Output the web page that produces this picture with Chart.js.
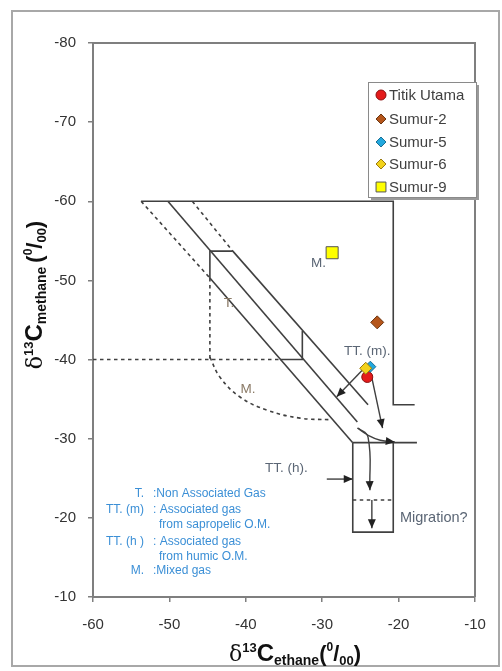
<!DOCTYPE html>
<html><head><meta charset="utf-8">
<script src="https://cdn.jsdelivr.net/npm/chart.js@4"></script>
<style>html,body{margin:0;padding:0;background:#fff}#wrap{width:502px;height:671px;position:relative}</style>
</head><body><div id="wrap"><canvas id="c" width="502" height="671"></canvas></div>
<script>
// ---- data ----
const xTicks = [-60, -50, -40, -30, -20, -10];
const yTicks = [-80, -70, -60, -50, -40, -30, -20, -10];
const seriesNames = ['Titik Utama', 'Sumur-2', 'Sumur-5', 'Sumur-6', 'Sumur-9'];
const ethaneValues = [-24.1, -22.8, -23.7, -24.3, -28.7];
const methaneValues = [-37.8, -44.7, -39.1, -38.9, -53.5];

// diagram outlines (x = d13C ethane, y = d13C methane)
const solidLines = [
  [[-53.7, -60], [-20.7, -60], [-20.7, -34.3], [-17.9, -34.3]],
  [[-50.2, -60], [-25.4, -32.1]],
  [[-44.7, -50.3], [-26.0, -29.5]],
  [[-41.7, -53.7], [-24.0, -34.3]],
  [[-41.7, -53.7], [-44.7, -53.7], [-44.7, -50.3]],
  [[-35.5, -40], [-32.6, -40], [-32.6, -43.6]],
  [[-26.0, -29.5], [-17.6, -29.5]],
  [[-26.0, -29.5], [-26.0, -18.2], [-20.7, -18.2], [-20.7, -29.5]]
];
const dashedLines = [
  [[-53.7, -60], [-44.7, -50.3]],
  [[-47.0, -60], [-41.7, -53.7]],
  [[-44.7, -50.3], [-44.7, -40]],
  [[-60, -40], [-35.5, -40]],
  [[-26.0, -22.25], [-20.7, -22.25]]
];
const mixedCurve = [[-44.7, -40.3], [-43.4, -37.8], [-40.8, -35.3], [-37.2, -33.6], [-32.9, -32.6], [-29.0, -32.4]];
const straightArrows = [
  [[-24.7, -38.7], [-28.1, -35.3]],
  [[-23.5, -37.7], [-22.1, -31.35]],
  [[-29.4, -24.9], [-26.0, -24.9]],
  [[-23.5, -22.25], [-23.5, -18.7]]
];
const curvedArrows = [
  [[-25.3, -31.35], [-24.0, -30.2], [-23.75, -23.5]],
  [[-25.4, -31.35], [-24.1, -30.5], [-22.4, -29.8], [-20.5, -29.6]]
];
const fieldLabels = ['M.', 'TT. (m).', 'T.', 'M.', 'TT. (h).', 'Migration?'];
const fieldLabelX = [-30.5, -24.1, -42.2, -39.7, -34.7, -15.4];
const fieldLabelY = [-52.2, -41.0, -47.1, -36.3, -26.3, -20.0];
const noteKeys = ['T.', 'TT. (m)', '', 'TT. (h )', '', 'M.'];
const noteTexts = [':Non Associated Gas', ': Associated gas', 'from sapropelic O.M.', ': Associated gas', 'from humic O.M.', ':Mixed gas'];

// ---- styles ----
const pointStyles = [
  {pointStyle: 'circle', r: 5.5, bg: '#e41b1b', bd: '#8b1010'},
  {pointStyle: 'rectRot', r: 6.5, bg: '#b5561b', bd: '#6b3510'},
  {pointStyle: 'rectRot', r: 5.5, bg: '#22a8de', bd: '#1a6f94'},
  {pointStyle: 'rectRot', r: 6, bg: '#f2d21b', bd: '#9a7a10'},
  {pointStyle: 'rect', r: 8.5, bg: '#ffff00', bd: '#555555'}
];
const drawOrder = [3, 5, 2, 1, 4];
const LINE = '#404040';

const toXY = arr => arr.map(p => ({x: p[0], y: p[1]}));
const datasets = [];
seriesNames.forEach((n, i) => {
  const st = pointStyles[i];
  datasets.push({label: n, data: [{x: ethaneValues[i], y: methaneValues[i]}], pointStyle: st.pointStyle,
    pointRadius: st.r, pointBackgroundColor: st.bg, pointBorderColor: st.bd, pointBorderWidth: 1, showLine: false, order: drawOrder[i]});
});
solidLines.forEach(l => datasets.push({data: toXY(l), showLine: true, pointRadius: 0, borderColor: LINE, borderWidth: 1.6, order: 20}));
dashedLines.forEach(l => datasets.push({data: toXY(l), showLine: true, pointRadius: 0, borderColor: LINE, borderWidth: 1.6, borderDash: [3.5, 3.5], order: 20}));
datasets.push({data: toXY(mixedCurve), showLine: true, pointRadius: 0, borderColor: LINE, borderWidth: 1.6, borderDash: [3.5, 3.5], tension: 0.4, order: 20});
straightArrows.forEach(l => datasets.push({data: toXY(l), showLine: true, pointRadius: 0, borderColor: LINE, borderWidth: 1.4, order: 20, isArrow: true}));
curvedArrows.forEach(l => datasets.push({data: toXY(l), showLine: true, pointRadius: 0, borderColor: LINE, borderWidth: 1.4, tension: 0.45, order: 20, isArrow: true}));

function drawRich(ctx, segs, x, y, rot) {
  ctx.save();
  ctx.translate(x, y);
  if (rot) ctx.rotate(rot);
  let w = 0;
  segs.forEach(s => { ctx.font = (s.b ? 'bold ' : '') + s.s + 'px ' + (s.f || '"Liberation Sans"'); s.w = ctx.measureText(s.t).width; w += s.w; });
  let cx = -w / 2;
  ctx.textBaseline = 'alphabetic';
  ctx.textAlign = 'left';
  ctx.fillStyle = '#111';
  segs.forEach(s => { ctx.font = (s.b ? 'bold ' : '') + s.s + 'px ' + (s.f || '"Liberation Sans"'); ctx.fillText(s.t, cx, s.dy || 0); cx += s.w; });
  ctx.restore();
}
function titleSegs(sub) {
  return [
    {t: 'δ', s: 22, f: '"DejaVu Serif"'},
    {t: '13', s: 13, dy: -9, b: true},
    {t: 'C', s: 24, b: true},
    {t: sub, s: 14, dy: 4, b: true},
    {t: '(', s: 22, b: true},
    {t: '0', s: 12, dy: -10, b: true},
    {t: '/', s: 22, b: true},
    {t: '00', s: 13, dy: 4, b: true},
    {t: ')', s: 22, b: true}
  ];
}

const decor = {
  id: 'decor',
  beforeDraw(chart) {
    const ctx = chart.ctx;
    ctx.save();
    ctx.fillStyle = '#fff';
    ctx.fillRect(0, 0, chart.width, chart.height);
    ctx.strokeStyle = '#a8a8a8';
    ctx.lineWidth = 2;
    ctx.strokeRect(12, 11, 487, 655);
    ctx.restore();
  },
  afterDatasetsDraw(chart) {
    const ctx = chart.ctx, a = chart.chartArea;
    ctx.save();
    // plot frame (top & right)
    ctx.strokeStyle = '#7f7f7f';
    ctx.lineWidth = 2;
    ctx.beginPath();
    ctx.moveTo(a.left, a.top); ctx.lineTo(a.right, a.top); ctx.lineTo(a.right, a.bottom);
    ctx.stroke();
    // arrow heads
    chart.data.datasets.forEach((ds, i) => {
      if (!ds.isArrow) return;
      const pts = chart.getDatasetMeta(i).data;
      const p1 = pts[pts.length - 2], p2 = pts[pts.length - 1];
      const ang = Math.atan2(p2.y - p1.y, p2.x - p1.x);
      const L = 9, H = 4;
      ctx.fillStyle = '#222';
      ctx.beginPath();
      ctx.moveTo(p2.x, p2.y);
      ctx.lineTo(p2.x - L * Math.cos(ang) + H * Math.sin(ang), p2.y - L * Math.sin(ang) - H * Math.cos(ang));
      ctx.lineTo(p2.x - L * Math.cos(ang) - H * Math.sin(ang), p2.y - L * Math.sin(ang) + H * Math.cos(ang));
      ctx.closePath();
      ctx.fill();
    });
    // field labels
    const sx = chart.scales.x, sy = chart.scales.y;
    ctx.textAlign = 'center';
    ctx.textBaseline = 'middle';
    fieldLabels.forEach((t, i) => {
      ctx.font = (t === 'Migration?' ? 14.5 : 13.5) + 'px "Liberation Sans"';
      ctx.fillStyle = (t === 'T.' || (t === 'M.' && i === 3)) ? '#8a7a66' : '#5b6675';
      ctx.fillText(t, sx.getPixelForValue(fieldLabelX[i]), sy.getPixelForValue(fieldLabelY[i]));
    });
    // notes block
    const rowY = [494, 510, 525, 542, 557, 571];
    ctx.font = '12px "Liberation Sans"';
    ctx.fillStyle = '#3b8fd6';
    noteKeys.forEach((k, i) => {
      ctx.textAlign = 'right';
      if (k) ctx.fillText(k, 144, rowY[i]);
      ctx.textAlign = 'left';
      ctx.fillText(noteTexts[i], k ? 153 : 159, rowY[i]);
    });
    // legend box
    const lx = 368, ly = 82, lw = 108, lh = 115;
    ctx.fillStyle = '#9a9a9a';
    ctx.fillRect(lx + 3, ly + 3, lw, lh);
    ctx.fillStyle = '#fff';
    ctx.fillRect(lx, ly, lw, lh);
    ctx.strokeStyle = '#8a8a8a';
    ctx.lineWidth = 1;
    ctx.strokeRect(lx + 0.5, ly + 0.5, lw, lh);
    const itemY = [95, 119, 142, 164, 187];
    seriesNames.forEach((n, i) => {
      const st = pointStyles[i];
      ctx.fillStyle = st.bg; ctx.strokeStyle = st.bd; ctx.lineWidth = 1;
      Chart.helpers.drawPoint(ctx, {pointStyle: st.pointStyle, radius: st.pointStyle === 'rect' ? 7 : 5, rotation: 0, borderWidth: 1}, 381, itemY[i]);
      ctx.fillStyle = '#404040';
      ctx.font = '15px "Liberation Sans"';
      ctx.textAlign = 'left';
      ctx.textBaseline = 'middle';
      ctx.fillText(n, 389, itemY[i] + 1);
    });
    // axis titles
    drawRich(ctx, titleSegs('ethane'), 295, 661, 0);
    drawRich(ctx, titleSegs('methane '), 42, 295, -Math.PI / 2);
    ctx.restore();
  }
};

new Chart(document.getElementById('c'), {
  type: 'scatter',
  data: {datasets},
  options: {
    responsive: false,
    animation: false,
    layout: {padding: {left: 0, right: 27, top: 43, bottom: 0}},
    plugins: {legend: {display: false}, tooltip: {enabled: false}},
    scales: {
      x: {
        type: 'linear', min: -60, max: -10,
        afterBuildTicks: s => { s.ticks = xTicks.map(v => ({value: v})); },
        afterFit: s => { s.height = 74; },
        ticks: {font: {family: 'Liberation Sans', size: 15}, color: '#333', padding: 14, maxRotation: 0, callback: v => v},
        grid: {drawOnChartArea: false, drawTicks: true, tickLength: 5, color: '#7f7f7f', lineWidth: 1.5},
        border: {display: true, color: '#7f7f7f', width: 2}
      },
      y: {
        type: 'linear', min: -80, max: -10, reverse: true,
        afterBuildTicks: s => { s.ticks = yTicks.map(v => ({value: v})); },
        afterFit: s => { s.width = 93; },
        ticks: {font: {family: 'Liberation Sans', size: 15}, color: '#333', padding: 12, callback: v => v},
        grid: {drawOnChartArea: false, drawTicks: true, tickLength: 5, color: '#7f7f7f', lineWidth: 1.5},
        border: {display: true, color: '#7f7f7f', width: 2}
      }
    }
  },
  plugins: [decor]
});
</script></body></html>
